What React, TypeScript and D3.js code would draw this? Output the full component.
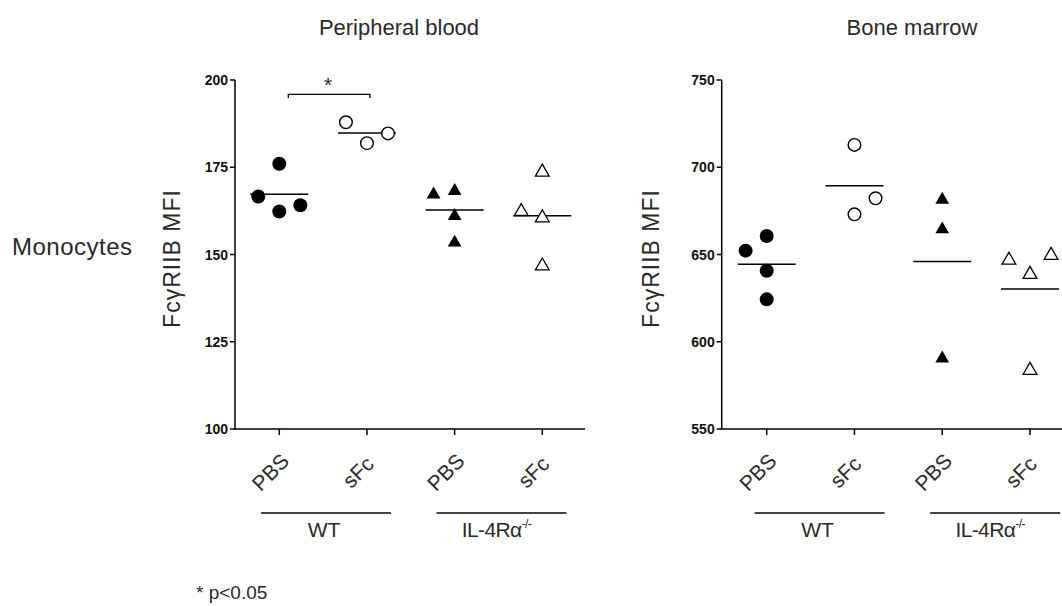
import React from "react";
import * as d3 from "d3";

// ---------- data ----------
const categories = ["WT PBS", "WT sFc", "IL PBS", "IL sFc"];
const catLabels = ["PBS", "sFc", "PBS", "sFc"];
const groupLabels = ["WT", "IL-4R"];

// Peripheral blood (values, and column slot of each point within its group)
const pbWtPbs = [166.6, 176.0, 162.3, 164.1];
const pbWtPbsSlot = [-1, 0, 0, 1];
const pbWtSfc = [187.9, 181.9, 184.7];
const pbWtSfcSlot = [-1, 0, 1];
const pbIlPbs = [167.5, 168.5, 161.3, 153.7];
const pbIlPbsSlot = [-1, 0, 0, 0];
const pbIlSfc = [162.6, 173.9, 160.8, 147.0];
const pbIlSfcSlot = [-1, 0, 0, 0];
const pbTicks = [100, 125, 150, 175, 200];

// Bone marrow
const bmWtPbs = [652.2, 660.6, 640.7, 624.3];
const bmWtPbsSlot = [-1, 0, 0, 0];
const bmWtSfc = [712.8, 682.2, 673.0];
const bmWtSfcSlot = [0, 1, 0];
const bmIlPbs = [682.0, 665.0, 591.0];
const bmIlPbsSlot = [0, 0, 0];
const bmIlSfc = [647.3, 639.2, 650.1, 584.2];
const bmIlSfcSlot = [-1, 0, 1, 0];
const bmTicks = [550, 600, 650, 700, 750];

const markerKinds = ["filledCircle", "openCircle", "filledTriangle", "openTriangle"];

const FONT = "'Liberation Sans', Arial, Helvetica, sans-serif";
const TXT = "#2a2a2a";

type Panel = {
  title: string;
  titleX: number;
  axisX: number;
  xEnd: number;
  tickRange: [number, number];
  domain: [number, number];
  ticks: number[];
  series: number[][];
  slots: number[][];
  labelX: number;
  groupShift: number;
  sig?: boolean;
};

const panels: Panel[] = [
  {
    title: "Peripheral blood",
    titleX: 399,
    axisX: 235,
    xEnd: 585,
    tickRange: [279.3, 542.3],
    domain: [100, 200],
    ticks: pbTicks,
    series: [pbWtPbs, pbWtSfc, pbIlPbs, pbIlSfc],
    slots: [pbWtPbsSlot, pbWtSfcSlot, pbIlPbsSlot, pbIlSfcSlot],
    labelX: 180,
    groupShift: 3,
    sig: true,
  },
  {
    title: "Bone marrow",
    titleX: 912,
    axisX: 721.7,
    xEnd: 1062,
    tickRange: [766.7, 1030],
    domain: [550, 750],
    ticks: bmTicks,
    series: [bmWtPbs, bmWtSfc, bmIlPbs, bmIlSfc],
    slots: [bmWtPbsSlot, bmWtSfcSlot, bmIlPbsSlot, bmIlSfcSlot],
    labelX: 659,
    groupShift: 9,
  },
];

const triPath = d3.symbol().type(d3.symbolTriangle).size(82)() as string;

function Marker({ kind, x, y }: { kind: string; x: number; y: number }) {
  if (kind === "filledCircle") return <circle cx={x} cy={y} r={7} fill="#000" />;
  if (kind === "openCircle")
    return <circle cx={x} cy={y} r={6.3} fill="#fff" stroke="#000" strokeWidth={1.4} />;
  if (kind === "filledTriangle")
    return <path d={triPath} transform={`translate(${x},${y + 1})`} fill="#000" />;
  return (
    <path d={triPath} transform={`translate(${x},${y + 1})`} fill="#fff" stroke="#000" strokeWidth={1.3} />
  );
}

function PanelView({ p }: { p: Panel }) {
  const x = d3.scalePoint<string>().domain(categories).range(p.tickRange);
  const y = d3.scaleLinear().domain(p.domain).range([429, 80]);
  const step = x.step();
  const slotW = step * 0.24;
  const yMid = (y.range()[0] + y.range()[1]) / 2;
  return (
    <g>
      <text x={p.titleX} y={35} textAnchor="middle" fontSize={22} fill={TXT} fontFamily={FONT}>
        {p.title}
      </text>
      {/* y axis */}
      <line x1={p.axisX} x2={p.axisX} y1={y(p.domain[1])} y2={y(p.domain[0]) + 0.75} stroke="#000" strokeWidth={1.5} />
      {p.ticks.map((t) => (
        <g key={t}>
          <line x1={p.axisX - 5} x2={p.axisX} y1={y(t)} y2={y(t)} stroke="#000" strokeWidth={1.5} />
          <text x={p.axisX - 7} y={y(t) + 5} textAnchor="end" fontSize={14} fontWeight="bold" fill="#111" fontFamily={FONT}>
            {t}
          </text>
        </g>
      ))}
      <text
        transform={`translate(${p.labelX},${yMid + 4}) rotate(-90)`}
        textAnchor="middle"
        fontSize={23}
        letterSpacing={1}
        fill={TXT}
        fontFamily={FONT}
      >
        FcγRIIB MFI
      </text>
      {/* x axis */}
      <line x1={p.axisX - 0.75} x2={p.xEnd} y1={y(p.domain[0])} y2={y(p.domain[0])} stroke="#000" strokeWidth={1.5} />
      {categories.map((c, i) => (
        <g key={c}>
          <line x1={x(c)} x2={x(c)} y1={y(p.domain[0])} y2={y(p.domain[0]) + 6} stroke="#000" strokeWidth={1.5} />
          <text
            transform={`translate(${(x(c) as number) - 9},${472}) rotate(-45)`}
            textAnchor="middle"
            dominantBaseline="central"
            fontSize={21}
            fill={TXT}
            fontFamily={FONT}
          >
            {catLabels[i]}
          </text>
        </g>
      ))}
      {/* group lines */}
      {groupLabels.map((g, gi) => {
        const a = x(categories[gi * 2]) as number;
        const b = x(categories[gi * 2 + 1]) as number;
        const mid = (a + b) / 2 + p.groupShift;
        return (
          <g key={g}>
            <line x1={mid - 65} x2={mid + 65} y1={513} y2={513} stroke="#444" strokeWidth={2} />
            {gi === 0 ? (
              <text x={mid - 2} y={537} textAnchor="middle" fontSize={21} fill={TXT} fontFamily={FONT}>
                WT
              </text>
            ) : (
              <text x={mid - 5} y={537} textAnchor="middle" fontSize={21} letterSpacing={-0.6} fill={TXT} fontFamily={FONT}>
                IL-4Rα
                <tspan fontSize={12} dy={-9}>-/-</tspan>
              </text>
            )}
          </g>
        );
      })}
      {/* points */}
      {p.series.map((vals, si) => {
        const cx = x(categories[si]) as number;
        const mean = d3.mean(vals) as number;
        return (
          <g key={si}>
            <line x1={cx - 29} x2={cx + 29} y1={y(mean)} y2={y(mean)} stroke="#000" strokeWidth={1.5} />
            {vals.map((v, k) => (
              <Marker key={k} kind={markerKinds[si]} x={cx + p.slots[si][k] * slotW} y={y(v)} />
            ))}
          </g>
        );
      })}
      {p.sig && (
        <g>
          <path
            d={`M${(x(categories[0]) as number) + 9},${98} V${94.3} H${(x(categories[1]) as number) + 3} V${98}`}
            fill="none"
            stroke="#000"
            strokeWidth={1.3}
          />
          <text x={328} y={92} textAnchor="middle" fontSize={21} fill={TXT} fontFamily={FONT}>
            *
          </text>
        </g>
      )}
    </g>
  );
}

export default function App() {
  return (
    <svg
      width={1062}
      height={606}
      viewBox="0 0 1062 606"
      style={{ position: "absolute", left: 0, top: 0, background: "#fff" }}
    >
      <rect width={1062} height={606} fill="#fff" />
      <text x={12} y={255} fontSize={24} letterSpacing={0.5} fill={TXT} fontFamily={FONT}>
        Monocytes
      </text>
      {panels.map((p) => (
        <PanelView key={p.title} p={p} />
      ))}
      <text x={196} y={599} fontSize={19} fill={TXT} fontFamily={FONT}>
        * p&lt;0.05
      </text>
    </svg>
  );
}
